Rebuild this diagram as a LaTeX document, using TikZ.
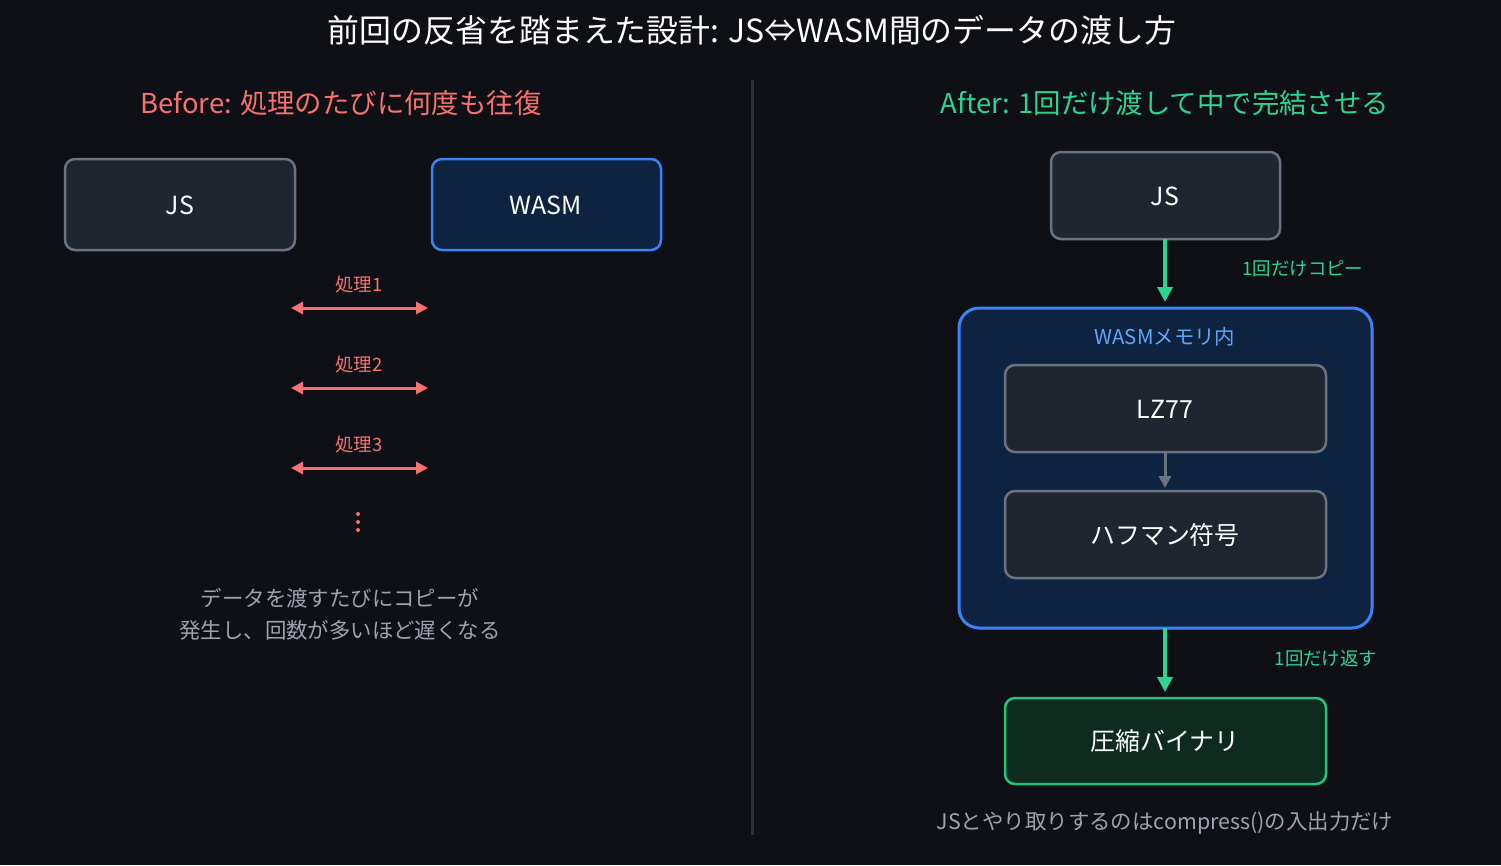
\documentclass[tikz,border=0pt]{standalone}
\usepackage{fontspec}
\setmainfont{Noto Sans CJK JP}
\usetikzlibrary{arrows.meta}
\definecolor{bg}{HTML}{0E1016}
\definecolor{boxf}{HTML}{1F2630}
\definecolor{boxd}{HTML}{6B7280}
\definecolor{wf}{HTML}{0D2340}
\definecolor{wd}{HTML}{3B82F6}
\definecolor{red}{HTML}{F87171}
\definecolor{grn}{HTML}{2DD490}
\definecolor{gf}{HTML}{0E2B20}
\definecolor{gd}{HTML}{22C57A}
\definecolor{note}{HTML}{9CA3AF}
\definecolor{divc}{HTML}{2A323D}
\definecolor{lbl}{HTML}{60A5FA}
\begin{document}
\begin{tikzpicture}[x=1bp,y=-1bp,
  box/.style={draw=boxd,fill=boxf,line width=2.5bp,rounded corners=10bp},
  bt/.style={text=white,font=\fontsize{25}{28}\selectfont},
  small/.style={font=\fontsize{18.5}{22}\selectfont},
  dbl/.style={red,line width=3bp,{Triangle[length=12bp,width=12bp]}-{Triangle[length=12bp,width=12bp]}},
  garr/.style={grn,line width=3.5bp,-{Triangle[length=15bp,width=15bp]}}]
\fill[bg] (0,0) rectangle (1501,865);
\useasboundingbox (0,0) rectangle (1501,865);
\node[text=white,font=\fontsize{32}{35}\selectfont] (title) at (752,30) {前回の反省を踏まえた設計: JS⇔WASM間のデータの渡し方};
\node[text=red,font=\fontsize{27.5}{30}\selectfont] (bl) at (341,103) {Before: 処理のたびに何度も往復};
\node[text=grn,font=\fontsize{27.5}{30}\selectfont] (al) at (1165,103) {After: 1回だけ渡して中で完結させる};
\coordinate (d1) at (752,80); \coordinate (d2) at (752,835);
\draw[divc,line width=3bp] (d1) -- (d2);
% left
\draw[box] (65,159) rectangle (295,250); \node[bt] (js1) at (180,205) {JS};
\draw[box,draw=wd,fill=wf] (432,159) rectangle (661,250); \node[bt] (w1) at (546,205) {WASM};
\foreach \y/\n in {308/1,388/2,468/3}{
  \coordinate (a\n) at (291,\y); \coordinate (b\n) at (428,\y);
  \draw[dbl] (a\n) -- (b\n);
  \node[text=red,small] (p\n) at (359,\y-23) {処理\n};
}
\foreach \y in {514,522,530} \fill[red] (358,\y) circle (2bp);
\node[text=note,align=center,font=\fontsize{21.5}{32}\selectfont] (n1) at (340,614) {データを渡すたびにコピーが\\発生し、回数が多いほど遅くなる};
% right
\draw[box] (1051,152) rectangle (1280,239); \node[bt] (js2) at (1165,196) {JS};
\draw[draw=wd,fill=wf,line width=3bp,rounded corners=20bp] (959,308) rectangle (1372,628);
\node[text=lbl,font=\fontsize{20.5}{24}\selectfont] (wl) at (1165,337) {WASMメモリ内};
\draw[box] (1005,365) rectangle (1326,452); \node[bt] (lz) at (1165,409) {LZ77};
\draw[box] (1005,491) rectangle (1326,578); \node[bt] (hf) at (1165,535) {ハフマン符号};
\draw[box,draw=gd,fill=gf] (1005,698) rectangle (1326,784); \node[bt] (cb) at (1165,741) {圧縮バイナリ};
\coordinate (j1) at (1165,239); \coordinate (j2) at (1165,302);
\draw[garr] (j1) -- (j2);
\node[text=grn,small] (c1) at (1303,269) {1回だけコピー};
\coordinate (l1) at (1165,452); \coordinate (l2) at (1165,488);
\draw[boxd,line width=3bp,-{Triangle[length=12bp,width=12bp]}] (l1) -- (l2);
\coordinate (k1) at (1165,628); \coordinate (k2) at (1165,692);
\draw[garr] (k1) -- (k2);
\node[text=grn,small] (c2) at (1326,659) {1回だけ返す};
\node[text=note,font=\fontsize{21.5}{24}\selectfont] (n2) at (1165,823) {JSとやり取りするのはcompress()の入出力だけ};
\end{tikzpicture}
\end{document}
